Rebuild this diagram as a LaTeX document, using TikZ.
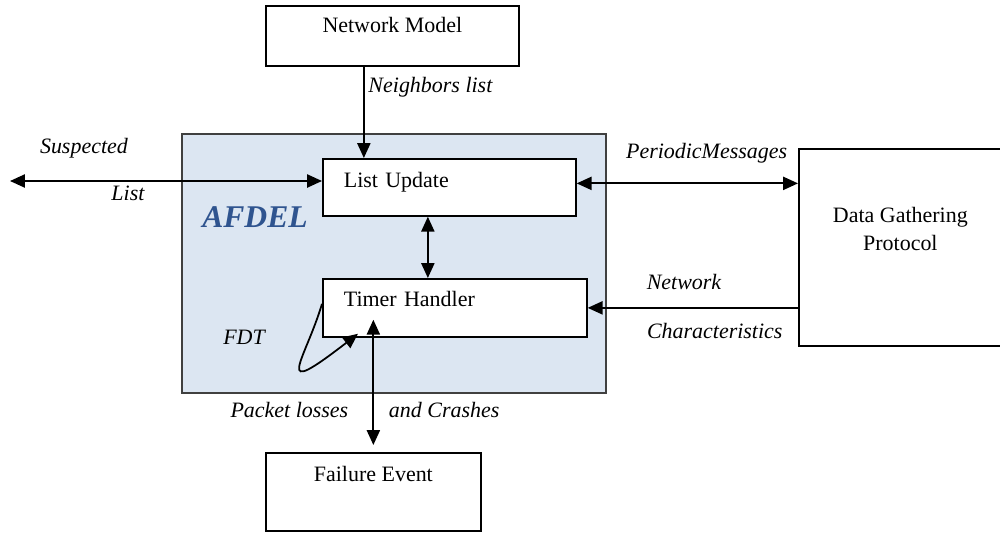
\documentclass[tikz,border=0pt]{standalone}
\usepackage{fontspec}
\setmainfont{Liberation Serif}
\usetikzlibrary{positioning, arrows.meta}
\definecolor{afdelfill}{RGB}{220,230,242}
\definecolor{afdelblue}{RGB}{47,84,143}
\tikzset{
	>={Triangle[length=8.5pt,width=7.5pt]}, % filled triangle heads
	box/.style={draw, fill=white, anchor=north west, inner ysep=0pt, font=\fontsize{12.5}{15.9}\selectfont}, % the white blocks
	tag/.style={font=\fontsize{12.5}{15}\selectfont\itshape, inner sep=1pt}, % italic labels on the edges
}

\begin{document}
\begin{tikzpicture}[x=0.02cm, y=-0.02cm, line width=1pt]
	\useasboundingbox (0,0) rectangle (1000,534);
	% AFDEL frame
	\node[draw=black!75, fill=afdelfill, anchor=north west, minimum width=8.48cm, minimum height=5.18cm] (afdel) at (181,133) {};
	\node[font=\fontsize{18}{20}\selectfont\bfseries\itshape, text=afdelblue] (afdeltag) at (255,217) {AFDEL};
	% blocks
	\node[box, minimum width=5.06cm, text height=0.54cm, text depth=0.66cm] (nm) at (265,5) {Network Model};
	\node[box, text width=4.22cm, inner xsep=0.42cm, align=left, text height=0.58cm, text depth=0.56cm] (lu) at (322,158) {List Update};
	\node[box, text width=4.44cm, inner xsep=0.42cm, align=left, text height=0.56cm, text depth=0.6cm] (th) at (322,278) {Timer Handler};
	\node[box, minimum width=4.3cm, text height=0.58cm, text depth=0.98cm] (fe) at (265,452) {Failure Event};
	\node[box, minimum width=4.06cm, align=center, text height=2.04cm, text depth=1.9cm] (dgp) at (798,148) {Data Gathering\\Protocol};
	\coordinate (sl) at (10,181);
	% edges
	\draw[->] ([xshift=-0.57cm]nm.south) -- ([xshift=-0.57cm]nm.south |- lu.north)
		node[tag, pos=0.22, right=0.04cm] {Neighbors list};
	\draw[<->] (sl) -- (sl -| lu.west)
		node[tag, pos=0.237, yshift=0.66cm] {Suspected}
		node[tag, pos=0.378, yshift=-0.24cm] {List};
	\draw[<->] ([yshift=0.08cm]lu.east) -- ([yshift=0.08cm]lu.east -| dgp.west)
		node[tag, pos=0.587, yshift=0.6cm] {PeriodicMessages};
	\draw[<->] ([xshift=-0.43cm]lu.south) -- ([xshift=-0.43cm]lu.south |- th.north);
	\draw[->] (dgp.west |- th.east) -- (th.east)
		node[tag, pos=0.542, yshift=0.52cm] {Network}
		node[tag, pos=0.396, yshift=-0.46cm] {Characteristics};
	\draw[<->] ([yshift=0.14cm]fe.north) -- ([yshift=0.36cm]fe.north |- th.south)
		node[tag, pos=0.276, left=0.45cm] {Packet losses}
		node[tag, pos=0.276, right=0.26cm] {and Crashes};
	\draw[->] ([yshift=0.08cm]th.west) .. controls +(-17,57) and +(-88,68) .. ([xshift=0.72cm,yshift=0.08cm]th.south west);
	\node[tag] (fdt) at (244,337) {FDT};
\end{tikzpicture}
\end{document}
